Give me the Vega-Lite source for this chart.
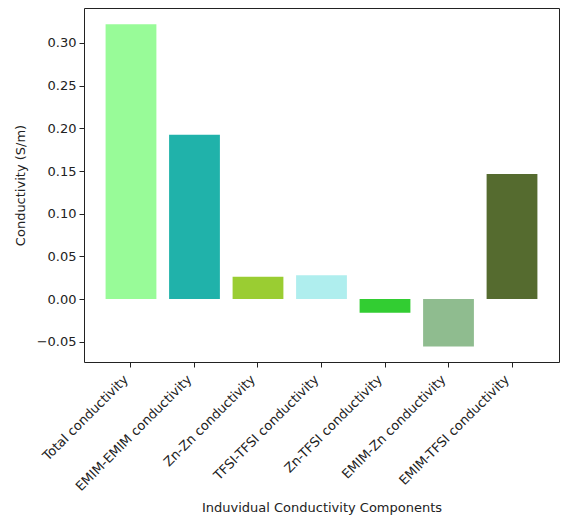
{
  "$schema": "https://vega.github.io/schema/vega-lite/v6.json",
  "width": 475,
  "height": 354,
  "autosize": {"type": "none"},
  "padding": {"left": 84, "top": 8, "right": 9, "bottom": 159},
  "background": "white",
  "config": {
    "font": "DejaVu Sans",
    "view": {"stroke": "#222", "strokeWidth": 1},
    "axis": {
      "labelFont": "DejaVu Sans",
      "titleFont": "DejaVu Sans",
      "labelFontSize": 13,
      "titleFontSize": 13,
      "titleFontWeight": "normal",
      "labelColor": "#222",
      "titleColor": "#222",
      "tickColor": "#222",
      "domainColor": "#222",
      "grid": false,
      "tickSize": 5
    }
  },
  "data": {
    "values": [
      {"component": "Total conductivity", "value": 0.322, "color": "#98FB98"},
      {"component": "EMIM-EMIM conductivity", "value": 0.1926, "color": "#20B2AA"},
      {"component": "Zn-Zn conductivity", "value": 0.0261, "color": "#9ACD32"},
      {"component": "TFSI-TFSI conductivity", "value": 0.0278, "color": "#AFEEEE"},
      {"component": "Zn-TFSI conductivity", "value": -0.016, "color": "#32CD32"},
      {"component": "EMIM-Zn conductivity", "value": -0.0555, "color": "#8FBC8F"},
      {"component": "EMIM-TFSI conductivity", "value": 0.1465, "color": "#556B2F"}
    ]
  },
  "mark": {"type": "bar"},
  "encoding": {
    "x": {
      "field": "component",
      "type": "nominal",
      "sort": null,
      "scale": {"paddingInner": 0.2, "paddingOuter": 0.34},
      "axis": {
        "title": "Induvidual Conductivity Components",
        "labelAngle": -45,
        "labelAlign": "right",
        "labelBaseline": "bottom",
        "labelPadding": 15,
        "titlePadding": 8,
        "domain": false
      }
    },
    "y": {
      "field": "value",
      "type": "quantitative",
      "scale": {"domain": [-0.0738, 0.341], "nice": false, "zero": false},
      "axis": {
        "title": "Conductivity (S/m)",
        "values": [-0.05, 0, 0.05, 0.1, 0.15, 0.2, 0.25, 0.3],
        "format": ".2f",
        "labelPadding": 3,
        "titlePadding": 9,
        "domain": false
      }
    },
    "color": {"field": "color", "type": "nominal", "scale": null, "legend": null}
  }
}
